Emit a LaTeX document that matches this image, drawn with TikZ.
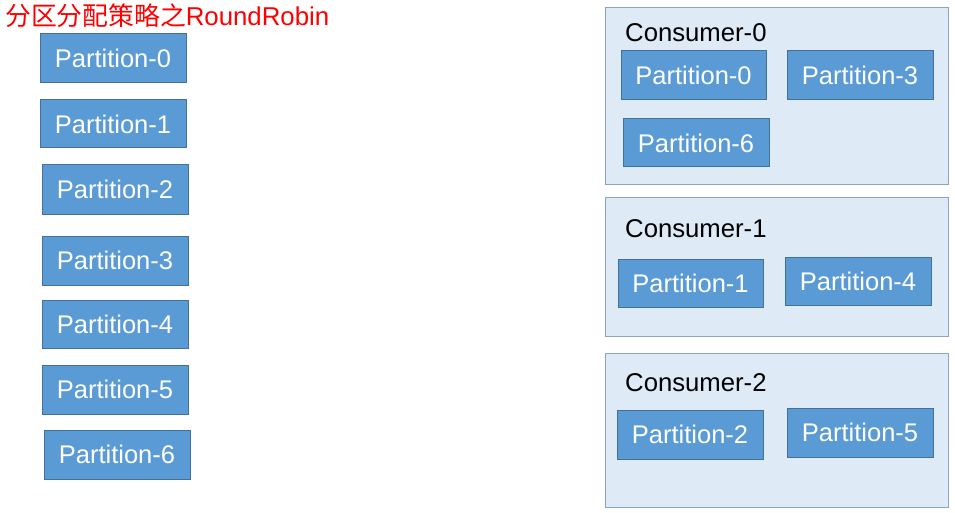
\documentclass[tikz,border=0pt]{standalone}
\usepackage{fontspec}
\setmainfont{Liberation Sans}
\newfontfamily\cjk{Noto Sans CJK SC}
\definecolor{partfill}{HTML}{5B9BD5}
\definecolor{partdraw}{HTML}{41719C}
\definecolor{consfill}{HTML}{DEEAF6}
\definecolor{consdraw}{HTML}{8AA5C5}
\begin{document}
\begin{tikzpicture}[x=1pt,y=-1pt,
  part/.style={draw=partdraw,fill=partfill,line width=1pt,inner sep=0pt,
    minimum width=146pt,minimum height=49pt,text=white,
    font=\fontsize{25.5}{27}\selectfont},
  cons/.style={draw=consdraw,fill=consfill,line width=1pt,inner sep=0pt,
    minimum width=343pt},
  clabel/.style={anchor=base west,inner sep=0pt,font=\fontsize{25.7}{27}\selectfont}]
\useasboundingbox (0,0) rectangle (955,513);
\node[anchor=base west,inner sep=0pt,text={rgb,255:red,255;green,0;blue,0},font=\fontsize{25.8}{27}\selectfont] (title) at (5,26) {{\cjk 分区分配策略之}RoundRobin};
% left partitions
\node[part] (p0) at (113,58.5) {Partition-0};
\node[part,minimum height=48pt] (p1) at (113,124) {Partition-1};
\node[part] (p2) at (115,189.5) {Partition-2};
\node[part] (p3) at (115,260.5) {Partition-3};
\node[part,minimum height=48pt] (p4) at (115,324) {Partition-4};
\node[part] (p5) at (115,389.5) {Partition-5};
\node[part] (p6) at (117,454.5) {Partition-6};
% consumers
\node[cons,minimum height=177pt] (c0) at (776.5,96.5) {};
\node[cons,minimum height=138pt] (c1) at (776.5,267) {};
\node[cons,minimum height=154pt] (c2) at (776.5,430) {};
\node[clabel] (c0l) at (625,42) {Consumer-0};
\node[clabel] (c1l) at (625,237) {Consumer-1};
\node[clabel] (c2l) at (625,391) {Consumer-2};
\node[part,minimum width=145pt] (c0p0) at (693.5,75.5) {Partition-0};
\node[part] (c0p3) at (860,75.5) {Partition-3};
\node[part,minimum height=48pt] (c0p6) at (696,143) {Partition-6};
\node[part,minimum width=145pt,minimum height=48pt] (c1p1) at (690.5,283) {Partition-1};
\node[part,minimum height=48pt] (c1p4) at (858,281) {Partition-4};
\node[part] (c2p2) at (690,434.5) {Partition-2};
\node[part] (c2p5) at (860,432.5) {Partition-5};
\end{tikzpicture}
\end{document}
